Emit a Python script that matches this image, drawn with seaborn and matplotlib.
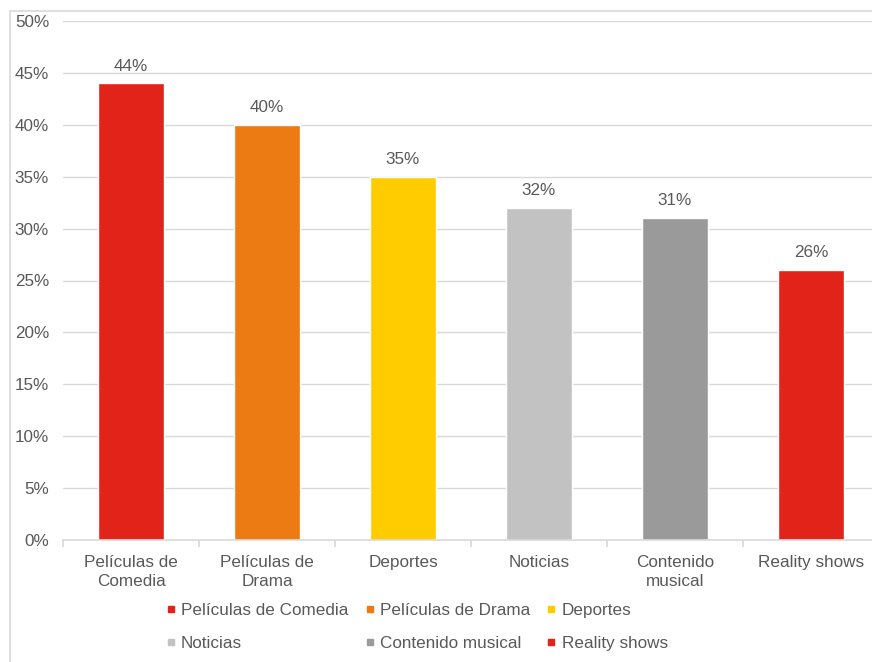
import matplotlib
matplotlib.use("Agg")
import matplotlib.pyplot as plt
import seaborn as sns
import pandas as pd
from matplotlib.lines import Line2D
from matplotlib.patches import Rectangle
from matplotlib.ticker import MultipleLocator, FuncFormatter

categories = ["Películas de Comedia", "Películas de Drama", "Deportes",
              "Noticias", "Contenido musical", "Reality shows"]
tick_labels = ["Películas de\nComedia", "Películas de\nDrama", "Deportes",
               "Noticias", "Contenido\nmusical", "Reality shows"]
values = [44, 40, 35, 32, 31, 26]
colors = ["#E2231A", "#EB7B12", "#FFCC00", "#C3C2C3", "#9B9A9B", "#E2231A"]

sns.set_theme(style="white")
plt.rcParams["font.family"] = ["Liberation Sans", "DejaVu Sans"]
FS = 12.3
TXT = "#595959"
GRID = "#D9D9D9"

df = pd.DataFrame({"cat": categories, "val": values})

fig = plt.figure(figsize=(8.72, 6.62), dpi=100)
ax = fig.add_axes([63/872, 1-540/662, (879-63)/872, (540-21)/662])

sns.barplot(data=df, x="cat", y="val", hue="cat", palette=colors,
            dodge=False, legend=False, width=0.48, saturation=1, ax=ax)

ax.set_ylim(0, 50)
ax.set_xlim(-0.5, len(categories) - 0.5)
ax.yaxis.set_major_locator(MultipleLocator(5))
ax.yaxis.set_major_formatter(FuncFormatter(lambda v, p: f"{int(v)}%"))
ax.set_axisbelow(True)
ax.grid(axis="y", color=GRID, linewidth=1)
ax.grid(axis="x", visible=False)
for s in ["left", "right", "top"]:
    ax.spines[s].set_visible(False)
ax.spines["bottom"].set_color(GRID)
ax.spines["bottom"].set_linewidth(1.2)

ax.set_xticks(range(len(categories)))
ax.set_xticklabels(tick_labels, fontsize=FS, color=TXT, linespacing=1.3)
ax.set_xticks([i - 0.5 for i in range(len(categories) + 1)], minor=True)
ax.tick_params(axis="x", which="major", length=0, pad=11)
ax.tick_params(axis="x", which="minor", length=5, color=GRID, width=1.2, bottom=True)
ax.tick_params(axis="y", length=0, pad=10, labelsize=FS, labelcolor=TXT)
ax.set_xlabel("")
ax.set_ylabel("")

for i, v in enumerate(values):
    ax.annotate(f"{v}%", (i, v), xytext=(0, 7), textcoords="offset points",
                ha="center", va="bottom", fontsize=FS, color=TXT)

handles = [Line2D([], [], marker="s", linestyle="none", markersize=5,
                  markerfacecolor=c, markeredgecolor=c) for c in colors]
order = [0, 3, 1, 4, 2, 5]
leg = fig.legend([handles[i] for i in order], [categories[i] for i in order],
                 ncol=3, loc="center", bbox_to_anchor=(417/872, 1-627/662),
                 frameon=False, fontsize=FS, handlelength=0.5, handletextpad=0.35,
                 columnspacing=1.0, labelspacing=1.05, borderpad=0)
for t in leg.get_texts():
    t.set_color(TXT)

fig.patches.append(Rectangle((10/872, -0.1), 1.2, 1.1 - 11/662,
                             transform=fig.transFigure, fill=False,
                             edgecolor=GRID, linewidth=1.2, zorder=0))

fig.savefig("out.png", dpi=100)
